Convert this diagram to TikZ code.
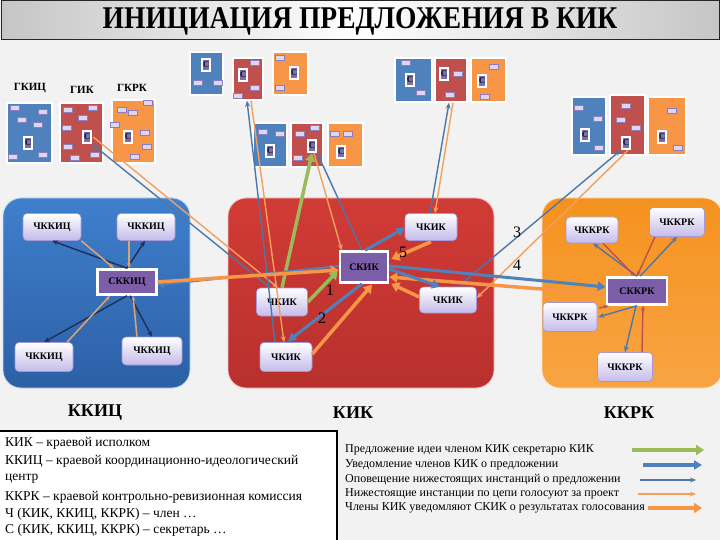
\documentclass[tikz,border=0pt]{standalone}
\usepackage{fontspec}
\setmainfont{Liberation Serif}
\usetikzlibrary{arrows.meta,calc}
\definecolor{bg}{HTML}{F2F2F2}
\definecolor{cellblue}{HTML}{4F81BD}
\definecolor{cellred}{HTML}{C0504D}
\definecolor{cellorange}{HTML}{F79646}
\definecolor{cpurple}{HTML}{7A70A8}
\definecolor{ctext}{HTML}{10102E}
\definecolor{minifill}{HTML}{DCD6F0}
\definecolor{minidraw}{HTML}{8C7DC0}
\definecolor{bigbluetop}{HTML}{3F7FCC}
\definecolor{bigbluebot}{HTML}{2C60A6}
\definecolor{bigredtop}{HTML}{D13B36}
\definecolor{bigredbot}{HTML}{B8302D}
\definecolor{bigortop}{HTML}{F5921E}
\definecolor{bigorbot}{HTML}{F8A444}
\definecolor{membot}{HTML}{C5BBEA}
\definecolor{memdraw}{HTML}{A597D8}
\definecolor{secfill}{HTML}{7B5EA7}
\definecolor{navyline}{HTML}{1F2D5A}
\definecolor{tanline}{HTML}{D9A273}
\definecolor{bluethinc}{HTML}{4E77A8}
\definecolor{orthinc}{HTML}{F0A15E}
\definecolor{redthinc}{HTML}{C0504D}
\definecolor{thickbluec}{HTML}{4F81BD}
\definecolor{thickorc}{HTML}{F79646}
\definecolor{thickgreenc}{HTML}{9BBB59}
\begin{document}
\begin{tikzpicture}[x=1pt,y=-1pt,
  cellB/.style={rectangle,fill=cellblue,draw=white,line width=1.5pt,inner sep=0pt},
  cellR/.style={rectangle,fill=cellred,draw=white,line width=1.5pt,inner sep=0pt},
  cellO/.style={rectangle,fill=cellorange,draw=white,line width=1.5pt,inner sep=0pt},
  cicon/.style={rectangle,fill=cpurple,draw=white,line width=2.5pt,minimum width=8pt,minimum height=12pt,inner sep=0pt,font=\bfseries\fontsize{9}{9}\selectfont,text=ctext},
  minirect/.style={fill=minifill,draw=minidraw,line width=0.4pt},
  member/.style={rectangle,rounded corners=4pt,top color=white,bottom color=membot,draw=memdraw,line width=0.6pt,inner sep=0pt,minimum height=27pt,font=\bfseries\fontsize{10}{12}\selectfont},
  secbox/.style={rectangle,fill=secfill,draw=white,line width=2.5pt,inner sep=0pt,minimum height=25pt,font=\bfseries\fontsize{10}{12}\selectfont},
  grplabel/.style={font=\bfseries\fontsize{11}{12}\selectfont},
  boxlabel/.style={font=\bfseries\fontsize{18}{20}\selectfont},
  num/.style={font=\fontsize{16}{16}\selectfont},
  navyarr/.style={draw=navyline,line width=1.4pt,-{Stealth[length=6pt,width=5pt]}},
  tanl/.style={draw=tanline,line width=1.6pt,-{Stealth[length=5pt,width=4pt]}},
  bluethin/.style={draw=bluethinc,line width=1.4pt,-{Stealth[length=6pt,width=5pt]}},
  orangethin/.style={draw=orthinc,line width=1.4pt,-{Stealth[length=6pt,width=5pt]}},
  redthin/.style={draw=redthinc,line width=1.4pt,-{Stealth[length=5pt,width=4pt]}},
  thickblue/.style={draw=thickbluec,line width=3pt,-{Triangle[length=8pt,width=9pt]}},
  medblue/.style={draw=thickbluec,line width=2pt,-{Triangle[length=6pt,width=7pt]}},
  thickorange/.style={draw=thickorc,line width=3.5pt,-{Triangle[length=8pt,width=10pt]}},
  thickgreen/.style={draw=thickgreenc,line width=3.5pt,-{Triangle[length=8pt,width=10pt]}},
  legtext/.style={anchor=west,inner sep=0pt,font=\fontsize{13.5}{15}\selectfont},
  legtextR/.style={anchor=west,inner sep=0pt,font=\fontsize{12}{14}\selectfont}
]
\useasboundingbox (0,0) rectangle (720,540);
\fill[bg] (0,0) rectangle (720,540);
% title bar
\path[left color=gray!45,right color=gray!45,middle color=white,draw=black!85,line width=1pt] (1,1) rectangle (719,40);
\node[font=\bfseries\fontsize{27.5}{28}\selectfont] (title) at (360,21) {\scalebox{1}[1.15]{ИНИЦИАЦИЯ ПРЕДЛОЖЕНИЯ В КИК}};

% big boxes
\path[top color=bigbluetop,bottom color=bigbluebot,draw=white!70!bigbluetop,line width=0.8pt,rounded corners=18pt] (3,198) rectangle (190,388);
\path[top color=bigredtop,bottom color=bigredbot,draw=white!70!bigredtop,line width=0.8pt,rounded corners=18pt] (228,198) rectangle (494,388);
\path[top color=bigortop,bottom color=bigorbot,draw=white!70!bigortop,line width=0.8pt,rounded corners=18pt] (542,198) rectangle (722,388);

% group labels
\node[grplabel] (lg1) at (30,88) {ГКИЦ};
\node[grplabel] (lg2) at (82,90) {ГИК};
\node[grplabel] (lg3) at (132,88) {ГКРК};

% cells
\node[cellB,minimum width=45pt,minimum height=60pt] (g1b) at (29.5,133) {};
\node[cellR,minimum width=43pt,minimum height=60pt] (g1r) at (81.5,133) {};
\node[cellO,minimum width=43pt,minimum height=63pt] (g1o) at (133.5,131.5) {};
\node[cellB,minimum width=33pt,minimum height=43pt] (g2b) at (206.5,73.5) {};
\node[cellR,minimum width=30pt,minimum height=42pt] (g2r) at (248,79) {};
\node[cellO,minimum width=35pt,minimum height=43pt] (g2o) at (290.5,73.5) {};
\node[cellB,minimum width=34pt,minimum height=44pt] (g3b) at (270,145) {};
\node[cellR,minimum width=32pt,minimum height=44pt] (g3r) at (307,145) {};
\node[cellO,minimum width=35pt,minimum height=44pt] (g3o) at (345.5,145) {};
\node[cellB,minimum width=37pt,minimum height=44pt] (g4b) at (413.5,80) {};
\node[cellR,minimum width=32pt,minimum height=44pt] (g4r) at (451,80) {};
\node[cellO,minimum width=35pt,minimum height=44pt] (g4o) at (488.5,80) {};
\node[cellB,minimum width=34pt,minimum height=58pt] (g5b) at (589,126) {};
\node[cellR,minimum width=35pt,minimum height=60pt] (g5r) at (627.5,125) {};
\node[cellO,minimum width=38pt,minimum height=58pt] (g5o) at (667,126) {};

% small member rectangles inside cells
\foreach \x/\y in {15/108,43/112,22/120,38/125,13/157,43/155,
  68/110,93/108,83/118,67/128,68/147,75/158,95/155,
  122/110,133/113,148/103,115/125,145/133,147/147,135/157,
  198/83,218/83,255/63,255/88,238/96,280/58,280/88,
  263/132,280/134,315/128,300/134,298/158,335/134,348/134,
  406/63,421/93,458/74,450/95,494/67,485/97,
  579/108,598/119,599/148,626/106,621/120,636/128,672/111,678/148}
  \path[minirect] (\x-4.5,\y-2.5) rectangle (\x+4.5,\y+2.5);

% secretary icons
\node[cicon] (s1b) at (28,143) {С};
\node[cicon] (s1r) at (87,137) {С};
\node[cicon] (s1o) at (128,137) {С};
\node[cicon] (s2b) at (206,65) {С};
\node[cicon] (s2r) at (243,75) {С};
\node[cicon] (s2o) at (294,73) {С};
\node[cicon] (s3b) at (270,151) {С};
\node[cicon] (s3r) at (312,146) {С};
\node[cicon] (s3o) at (341,152) {С};
\node[cicon] (s4b) at (410,80) {С};
\node[cicon] (s4r) at (444,74) {С};
\node[cicon] (s4o) at (482,81) {С};
\node[cicon] (s5b) at (585,135) {С};
\node[cicon] (s5r) at (626,143) {С};
\node[cicon] (s5o) at (662,137) {С};

% KKIC nodes
\node[member,minimum width=58pt] (cTL) at (52,227) {ЧККИЦ};
\node[member,minimum width=58pt] (cTR) at (146,227) {ЧККИЦ};
\node[secbox,minimum width=59pt] (cS) at (127,282) {СККИЦ};
\node[member,minimum width=58pt,minimum height=29pt] (cBL) at (44,357) {ЧККИЦ};
\node[member,minimum width=60pt,minimum height=28pt] (cBR) at (152,351) {ЧККИЦ};
% KIK nodes
\node[member,minimum width=52pt] (kT) at (431,227) {ЧКИК};
\node[secbox,minimum width=48pt,minimum height=31pt] (kS) at (364,267) {СКИК};
\node[member,minimum width=51pt,minimum height=28pt] (kL) at (282,302) {ЧКИК};
\node[member,minimum width=57pt,minimum height=26pt] (kR) at (448,300) {ЧКИК};
\node[member,minimum width=52pt,minimum height=29pt] (kB) at (286,357) {ЧКИК};
% KKRK nodes
\node[member,minimum width=52pt,minimum height=26pt] (rTL) at (592,230) {ЧККРК};
\node[member,minimum width=55pt,minimum height=29pt] (rTR) at (677,222) {ЧККРК};
\node[secbox,minimum width=60pt,minimum height=27pt] (rS) at (637,291) {СККРК};
\node[member,minimum width=54pt,minimum height=29pt] (rL) at (570,317) {ЧККРК};
\node[member,minimum width=55pt,minimum height=29pt] (rB) at (625,367) {ЧККРК};

% lines inside KKIC
\draw[navyarr] (cS.north) -- (cTL.south);
\draw[tanl] (cTL.south east) -- ($(cS.north)+(-13,0)$);
\draw[navyarr] (cS.north) -- ($(cTR.south)+(-1,0)$);
\draw[tanl] ($(cTR.south)+(-17,0)$) -- ($(cS.north)+(2,0)$);
\draw[navyarr] (cS.south) -- (cBL.north);
\draw[tanl] ($(cBL.north)+(23,0)$) -- ($(cS.south)+(-17,0)$);
\draw[navyarr] ($(cS.south)+(3,0)$) -- (cBR.north);
\draw[tanl] ($(cBR.north)+(-15,0)$) -- ($(cS.south)+(6,0)$);

% lines inside KKRK
\draw[bluethin] (rS.north) -- ($(rTL.south)+(1,0)$);
\draw[redthin] ($(rTL.south)+(11,0)$) -- ($(rS.north)+(-2,0)$);
\draw[redthin] ($(rTR.south)+(-22,0)$) -- (rS.north);
\draw[bluethin] ($(rS.north)+(3,0)$) -- (rTR.south);
\draw[bluethin] (rS.south) -- ($(rL.east)+(1,0)$);
\draw[redthin] ($(rL.east)+(2,-9)$) -- ($(rS.south west)+(3,0)$);
\draw[bluethin] ($(rS.south)+(-1,0)$) -- (rB.north);
\draw[redthin] ($(rB.north)+(17,0)$) -- ($(rS.south)+(6,0)$);

% lines to lower groups
\draw[bluethin] ($(kL.north)+(-12,0)$) -- (s1r.south east);
\draw[orangethin] ($(s1r.east)+(1,0)$) -- ($(kL.north)+(-4,0)$);
\draw[bluethin] ($(kB.north)+(-11,0)$) -- ($(g2r.south)+(-1,0)$);
\draw[orangethin] ($(g2r.south)+(3,0)$) -- ($(kB.north)+(-2,0)$);
\draw[thickgreen] (kL.north) -- (s3r.south);
\draw[orangethin] ($(s3r.south)+(2,0)$) -- ($(kS.north west)+(3,0)$);
\draw[bluethin] ($(kS.north)+(-2,0)$) -- (s3r.south east);
\draw[bluethin] ($(kT.north)+(-1,0)$) -- ($(g4r.south)+(-2,0)$);
\draw[orangethin] ($(g4r.south)+(2,0)$) -- ($(kT.north)+(4,0)$);
\draw[bluethin] ($(kR.north)+(10,0)$) -- (s5r.south west);
\draw[orangethin] ($(s5r.south)+(2,0)$) -- ($(kR.east)+(0,-2)$);

% thick arrows between secretaries
\draw[medblue] ($(kS.west)+(0,-1)$) -- ($(cS.east)+(0,3)$);
\draw[thickorange] (cS.east) -- ($(kS.west)+(0,3)$);
\draw[thickblue] ($(kS.east)+(0,-1)$) -- ($(rS.west)+(0,-4)$);
\draw[thickorange] ($(rS.west)+(0,3)$) -- ($(kS.east)+(0,10)$);

% inside KIK
\draw[thickgreen] (kL.east) -- ($(kS.west)+(-1,4)$);
\draw[thickblue] ($(kS.south)+(-2,0)$) -- ($(kB.north)+(2,-1)$);
\draw[thickorange] ($(kB.east)+(0,-3)$) -- ($(kS.south)+(8,1)$);
\draw[thickblue] ($(kS.north)+(1,0)$) -- ($(kT.west)+(0,1)$);
\draw[thickorange] ($(kT.south)+(0,1)$) -- ($(kS.east)+(2,-8)$);
\draw[thickblue] ($(kS.east)+(0,2)$) -- ($(kR.north)+(-8,0)$);
\draw[thickorange] ($(kR.west)+(0,-3)$) -- ($(kS.south east)+(2,0)$);

% step numbers
\node[num] (n1) at (330,290) {1};
\node[num] (n2) at (322,318) {2};
\node[num] (n3) at (517,232) {3};
\node[num] (n4) at (517,265) {4};
\node[num] (n5) at (403,252) {5};

% box labels
\node[boxlabel] (lkkic) at (95,413) {ККИЦ};
\node[boxlabel] (lkik) at (353,413) {КИК};
\node[boxlabel] (lkkrk) at (629,413) {ККРК};

% left legend
\path[fill=white,draw=black,line width=1.2pt] (-2,431) rectangle (337,545);
\node[legtext] (d1) at (5,443) {КИК – краевой исполком};
\node[legtext] (d2) at (5,461) {ККИЦ – краевой координационно-идеологический};
\node[legtext] (d3) at (5,479) {центр};
\node[legtext] (d4) at (5,497) {ККРК – краевой контрольно-ревизионная комиссия};
\node[legtext] (d5) at (5,514) {Ч (КИК, ККИЦ, ККРК) – член …};
\node[legtext] (d6) at (5,530) {С (КИК, ККИЦ, ККРК) – секретарь …};

% right legend
\node[legtextR] (e1) at (345,450) {Предложение идеи членом КИК секретарю КИК};
\node[legtextR] (e2) at (345,465) {Уведомление членов КИК о предложении};
\node[legtextR] (e3) at (345,480) {Оповещение нижестоящих инстанций о предложении};
\node[legtextR] (e4) at (345,494) {Нижестоящие инстанции по цепи голосуют за проект};
\node[legtextR] (e5) at (345,508) {Члены КИК уведомляют СКИК о результатах голосования};
\coordinate (a1s) at (632,450); \coordinate (a1e) at (704,450);
\coordinate (a2s) at (643,465); \coordinate (a2e) at (702,465);
\coordinate (a3s) at (640,480); \coordinate (a3e) at (696,480);
\coordinate (a4s) at (638,494); \coordinate (a4e) at (696,494);
\coordinate (a5s) at (648,508); \coordinate (a5e) at (702,508);
\draw[thickgreen] (a1s) -- (a1e);
\draw[thickblue,line width=3.5pt] (a2s) -- (a2e);
\draw[bluethin,line width=2pt] (a3s) -- (a3e);
\draw[orangethin,line width=2pt] (a4s) -- (a4e);
\draw[thickorange,line width=4pt] (a5s) -- (a5e);
\end{tikzpicture}
\end{document}
